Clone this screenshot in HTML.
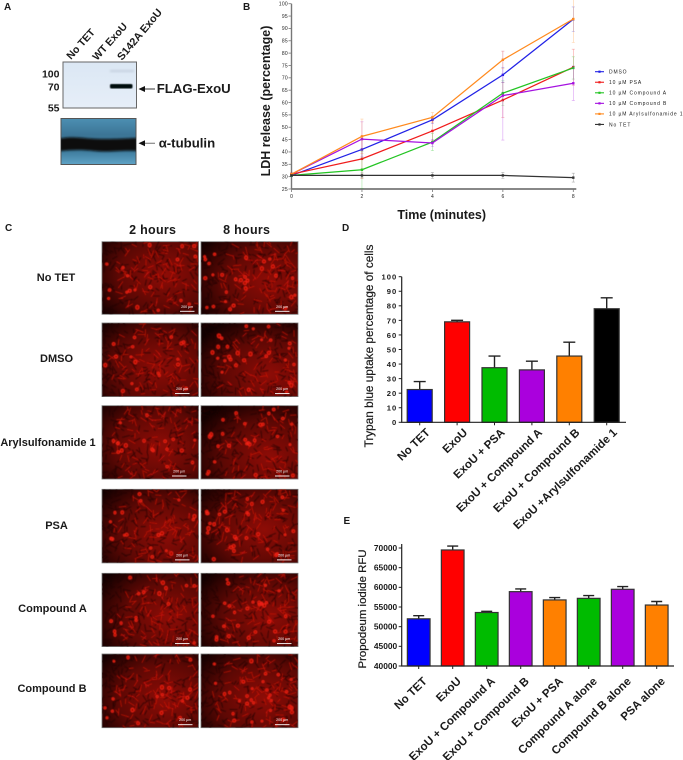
<!DOCTYPE html>
<html lang="en">
<head>
<meta charset="utf-8">
<title>ExoU inhibitor figure</title>
<style>
html,body{margin:0;padding:0;background:#fff;}
#figure{display:block;width:683px;height:760px;font-family:"Liberation Sans",sans-serif;}
text{font-family:"Liberation Sans",sans-serif;fill:#1a1a1a;}
.b{font-weight:bold;}
.panel{font-size:10px;font-weight:bold;}
.row{font-size:11px;font-weight:bold;text-anchor:middle;}
.head{font-size:12.5px;font-weight:bold;text-anchor:middle;letter-spacing:.3px;}
.semi{stroke:#1a1a1a;stroke-width:.2px;}
</style>
</head>
<body>
<svg id="figure" xmlns="http://www.w3.org/2000/svg" width="683" height="760" viewBox="0 0 683 760">
<defs>
<linearGradient id="blotBlue" x1="0" y1="0" x2="0" y2="1"><stop offset="0" stop-color="#dbe7f4"/><stop offset="1" stop-color="#e6eef8"/></linearGradient>
<linearGradient id="blotTeal" x1="0" y1="0" x2="0" y2="1"><stop offset="0" stop-color="#4c8fb2"/><stop offset=".35" stop-color="#3c7596"/><stop offset=".72" stop-color="#3f7d9e"/><stop offset="1" stop-color="#5fa3c6"/></linearGradient>
<filter id="soft" x="-5%" y="-5%" width="110%" height="110%"><feGaussianBlur stdDeviation=".45"/></filter>
<filter id="softBand" x="-10%" y="-60%" width="120%" height="220%"><feGaussianBlur stdDeviation="1"/></filter>
<clipPath id="tubClip"><rect x="61" y="118.5" width="75" height="46"/></clipPath>
</defs>

<text class="panel" x="4" y="10">A</text>
<text class="panel" x="243" y="10">B</text>
<text class="panel" x="5" y="231">C</text>
<text class="panel" x="342" y="231">D</text>
<text class="panel" x="343.5" y="524">E</text>

<g>
  <text class="b" font-size="10.5" transform="translate(71,60) rotate(-48)">No TET</text>
  <text class="b" font-size="10.5" transform="translate(97,61) rotate(-48)">WT ExoU</text>
  <text class="b" font-size="10.8" transform="translate(122,61) rotate(-50)">S142A ExoU</text>
  <rect x="63" y="62" width="73.5" height="46" fill="url(#blotBlue)" stroke="#666" stroke-width="1"/>
  <rect x="110" y="70" width="24" height="2" fill="#c4d0de" filter="url(#softBand)"/>
  <rect x="110" y="84" width="22.5" height="4.5" rx="1.5" fill="#06090f" filter="url(#soft)"/>
  <text class="b" font-size="10.5" text-anchor="end" x="59.5" y="77.7">100</text>
  <text class="b" font-size="10.5" text-anchor="end" x="59.5" y="90.7">70</text>
  <text class="b" font-size="10.5" text-anchor="end" x="59.5" y="111.3">55</text>
  <line x1="141" y1="89" x2="155" y2="89" stroke="#333" stroke-width="1"/>
  <polygon points="138.5,89 145,86 145,92" fill="#111"/>
  <text class="b" font-size="13.2" x="156.7" y="93">FLAG-ExoU</text>
  <rect x="61" y="118.5" width="75" height="46" fill="url(#blotTeal)" stroke="#555" stroke-width="1"/>
  <g clip-path="url(#tubClip)">
    <path d="M60 138.5C70 136.5 78 137.5 90 138.5S115 139 137 138V151C120 150 110 152.5 95 151S72 150 60 151Z" fill="#090807" filter="url(#softBand)"/>
  </g>
  <line x1="141" y1="143.3" x2="155" y2="143.3" stroke="#888" stroke-width="1.2"/>
  <polygon points="138.5,143.3 145,140.3 145,146.3" fill="#111"/>
  <text class="b" font-size="13.2" x="158.7" y="147.5" font-family="'Liberation Sans','DejaVu Sans',sans-serif">α-tubulin</text>
</g>

<g id="chartB">
  <text class="b" font-size="12.5" text-anchor="middle" transform="translate(270,101) rotate(-90)">LDH release (percentage)</text>
  <text class="b" font-size="12.5" text-anchor="middle" x="441.7" y="219">Time (minutes)</text>
</g>

<g id="panelC">
  <text class="head" x="152.7" y="234">2 hours</text>
  <text class="head" x="246.7" y="234">8 hours</text>
  <text class="row" x="56" y="281">No TET</text>
  <text class="row" x="56.5" y="362">DMSO</text>
  <text class="row" x="48" y="446">Arylsulfonamide 1</text>
  <text class="row" x="56.5" y="529">PSA</text>
  <text class="row" x="52.5" y="612">Compound A</text>
  <text class="row" x="52" y="692">Compound B</text>
</g>

<g id="chartD">
  <text class="semi" font-size="11.8" text-anchor="middle" transform="translate(373,346) rotate(-90)">Trypan blue uptake percentage of cells</text>
</g>

<g id="chartE">
  <text class="semi" font-size="11.4" text-anchor="middle" transform="translate(366,609) rotate(-90)">Propodeum iodide RFU</text>
</g>
</svg>

<script>
// ---- Panel B data ----
const timeTicks = [0, 2, 4, 6, 8];
const ldhTicks = [25,30,35,40,45,50,55,60,65,70,75,80,85,90,95,100];
const legendNames = ['DMSO','10 µM PSA','10 µM Compound A','10 µM Compound B','10 µM Arylsulfonamide 1','No TET'];
const lineColors = ['#2222e6','#f01c1c','#22c422','#a512e0','#ff8a1e','#333333'];
const dmsoValues = [30.5, 41, 53, 71.2, 93.7];
const psaValues = [31, 37.2, 48.5, 61, 74.3];
const compoundAValues = [30.5, 32.8, 44, 63.8, 74];
const compoundBValues = [31, 45.2, 43.6, 62.8, 67.8];
const arylValues = [31, 46.3, 54, 77.3, 93.8];
const noTetValues = [30.5, 30.5, 30.5, 30.5, 29.6];
const dmsoErrors = [0.5, 4, 1.5, 3, 5];
const psaErrors = [0.5, 8, 4, 7, 7.3];
const compoundAErrors = [0.5, 7.5, 3.5, 5, 4.5];
const compoundBErrors = [0.5, 7, 1.5, 18, 7];
const arylErrors = [0.5, 7, 2, 3.5, 9.5];
const noTetErrors = [0.3, 1, 1.2, 1.2, 1.8];

// ---- Panel D data ----
const trypanCategories = ['No TET','ExoU','ExoU + PSA','ExoU + Compound A','ExoU + Compound B','ExoU +Arylsulfonamide 1'];
const trypanValues = [22.5, 69, 37.5, 36, 45.5, 78];
const trypanErrors = [5.5, 1, 8, 6, 9.5, 7.5];
const trypanColors = ['#0000ff','#ff0000','#00bb00','#aa00dd','#ff8000','#000000'];
const trypanTicks = [0,10,20,30,40,50,60,70,80,90,100];

// ---- Panel E data ----
const rfuCategories = ['No TET','ExoU','ExoU + Compound A','ExoU + Compound B','ExoU + PSA','Compound A alone','Compound B alone','PSA alone'];
const rfuValues = [52000, 69500, 53600, 58900, 56800, 57200, 59500, 55500];
const rfuErrors = [800, 1000, 300, 700, 600, 700, 700, 900];
const rfuColors = ['#0000ff','#ff0000','#00bb00','#aa00dd','#ff8000','#00bb00','#aa00dd','#ff8000'];
const rfuTicks = [40000,45000,50000,55000,60000,65000,70000];

const NS = 'http://www.w3.org/2000/svg';
function mk(tag, attrs, parent) {
  const e = document.createElementNS(NS, tag);
  for (const k in attrs) e.setAttribute(k, attrs[k]);
  parent.appendChild(e);
  return e;
}
const slug = s => s.toLowerCase().replace(/µ/g,'u').replace(/[^a-z0-9]+/g,'-').replace(/^-|-$/g,'');

// ---- Panel B ----
(function () {
  const g = document.getElementById('chartB');
  const X = t => 291.5 + (t - 0) * (573.3 - 291.5) / 8;
  const Y = v => 189 - (v - 25) * (189 - 3.7) / 75;
  const all = [dmsoValues, psaValues, compoundAValues, compoundBValues, arylValues, noTetValues];
  const errs = [dmsoErrors, psaErrors, compoundAErrors, compoundBErrors, arylErrors, noTetErrors];

  const yAxis = mk('line', {x1:X(0), x2:X(0), y1:Y(100), y2:Y(25), stroke:'#777', 'stroke-width':1.4}, g);
  
  
  const xAxis = mk('line', {x1:X(0), x2:X(8)+3, y1:Y(25), y2:Y(25), stroke:'#777', 'stroke-width':1.8}, g);
  
  

  ldhTicks.forEach(v => {
    const t = mk('line', {x1:X(0)-3, x2:X(0), y1:Y(v), y2:Y(v), stroke:'#777', 'stroke-width':.8}, g);
    
    
    const l = mk('text', {x:X(0)-3.5, y:Y(v)+1.8, 'font-size':5, 'text-anchor':'end', 'letter-spacing':.3}, g);
    l.textContent = v;
    
    
  });
  timeTicks.forEach(v => {
    const t = mk('line', {x1:X(v), x2:X(v), y1:Y(25), y2:Y(25)+3, stroke:'#777', 'stroke-width':.8}, g);
    
    
    const l = mk('text', {x:X(v), y:Y(25)+9, 'font-size':5, 'text-anchor':'middle'}, g);
    l.textContent = v;
    
    
  });

  all.forEach((vals, i) => {
    const sg = mk('g', {}, g);
    
    
    vals.forEach((v, k) => {
      const e = errs[i][k];
      const bar = mk('path', {d:`M${X(timeTicks[k])} ${Y(v-e)}V${Y(v+e)}M${X(timeTicks[k])-1.5} ${Y(v+e)}h3M${X(timeTicks[k])-1.5} ${Y(v-e)}h3`, stroke:lineColors[i], 'stroke-width':.6, 'stroke-opacity':.4, fill:'none'}, sg);
      
      
    });
    const line = mk('polyline', {points: vals.map((v,k)=>X(timeTicks[k])+','+Y(v)).join(' '), fill:'none', stroke:lineColors[i], 'stroke-width':1.25}, sg);
    
    
    vals.forEach((v, k) => {
      const p = mk('rect', {x:X(timeTicks[k])-1.2, y:Y(v)-1.2, width:2.4, height:2.4, fill:lineColors[i]}, sg);
      
      
    });
  });

  legendNames.forEach((n, i) => {
    const y = 71.7 + i * 10.55;
    const lg = mk('g', {}, g);
    
    
    mk('line', {x1:595, x2:604, y1:y, y2:y, stroke:lineColors[i], 'stroke-width':1.1}, lg);
    mk('rect', {x:598.4, y:y-1.1, width:2.2, height:2.2, fill:lineColors[i]}, lg);
    const t = mk('text', {x:609, y:y+1.8, 'font-size':5, 'letter-spacing':.85}, lg);
    t.textContent = n;
  });
})();

// ---- Bar chart helper ----
function bars(g, o) {
  o.values.forEach((v, i) => {
    const cx = o.x0 + i * o.step;
    const bg = mk('g', {}, g);
    
    
    const top = o.Y(v + o.errs[i]);
    mk('path', {d:`M${cx} ${o.Y(v)}V${top}M${cx-o.cap} ${top}h${o.cap*2}`, stroke:'#222', 'stroke-width':1.4, fill:'none'}, bg);
    mk('rect', {x:cx-o.w/2, y:o.Y(v), width:o.w, height:o.Y(o.base)-o.Y(v), fill:o.colors[i], stroke:'#333', 'stroke-width':1.2}, bg);
    const tk = mk('line', {x1:cx, x2:cx, y1:o.Y(o.base), y2:o.Y(o.base)+3, stroke:'#222', 'stroke-width':1}, g);
    
    
    const l = mk('text', {'font-size':o.catSize, 'font-weight':'bold', 'text-anchor':'end', transform:`translate(${cx+o.labDx},${o.Y(o.base)+o.labDy}) rotate(-44)`}, g);
    l.textContent = o.cats[i];
    
    
  });
  const ax = mk('path', {d:`M${o.xa} ${o.yTop}V${o.Y(o.base)}H${o.xEnd}`, fill:'none', stroke:'#222', 'stroke-width':1.2}, g);
  
  
  o.ticks.forEach(v => {
    const t = mk('line', {x1:o.xa-3, x2:o.xa, y1:o.Y(v), y2:o.Y(v), stroke:'#222', 'stroke-width':1}, g);
    
    
    const l = mk('text', {x:o.xa-4.5, y:o.Y(v)+2.9, 'font-size':o.tickSize, 'font-weight':'bold', 'text-anchor':'end', 'letter-spacing':o.tickSpace}, g);
    l.textContent = v;
    
    
  });
}

bars(document.getElementById('chartD'), {
  cats:trypanCategories, values:trypanValues, errs:trypanErrors, colors:trypanColors, ticks:trypanTicks,
  Y:v => 422.3 - v * 1.456, base:0, x0:419.7, step:37.4, w:25, cap:6, xa:401.7, xEnd:626, yTop:276.7,
  catSize:11.5, tickSize:7.6, tickSpace:1, labDx:11, labDy:11
});
bars(document.getElementById('chartE'), {
  cats:rfuCategories, values:rfuValues, errs:rfuErrors, colors:rfuColors, ticks:rfuTicks,
  Y:v => 666 - (v - 40000) * 118 / 30000, base:40000, x0:418.7, step:34, w:22.7, cap:5.5, xa:401.7, xEnd:674, yTop:544,
  catSize:11.5, tickSize:8.4, tickSpace:0, labDx:9, labDy:16
});

// ---- Panel C: decorative micrograph texture (not chart data) ----
(function () {
  const g = document.getElementById('panelC');
  const defs = document.querySelector('#figure defs');
  const rows = [[241.7,72.6],[323,73.6],[405.7,73.3],[489.3,73.6],[573.3,73.3],[654,73.7]];
  const cols = [[102,96.5],[201,97]];
  const names = ['no-tet','dmso','arylsulfonamide-1','psa','compound-a','compound-b'];
  const scaleX = [[180,275],[175,275],[172,275],[175,277],[175,277],[178,275]];
  const glow = [[[.65,.45],[.7,.55]],[[.6,.6],[.7,.7]],[[.6,.55],[.7,.7]],[[.65,.6],[.65,.55]],[[.7,.6],[.7,.6]],[[.65,.6],[.65,.6]]];
  let seed = 48271;
  const rnd = () => (seed = (seed * 16807) % 2147483647) / 2147483647;
  for (let i = 0; i < 10; i++) rnd();
  rows.forEach((r, ri) => cols.forEach((c, ci) => {
    const id = 'mc' + ri + ci;
    const cp = mk('clipPath', {id}, defs);
    mk('rect', {x:c[0], y:r[0], width:c[1], height:r[1]}, cp);
    const [gx, gy] = glow[ri][ci];
    const gr = mk('radialGradient', {id:'mg' + ri + ci, cx:gx, cy:gy, r:.85}, defs);
    mk('stop', {offset:0, 'stop-color':'#8e0c06'}, gr);
    mk('stop', {offset:.55, 'stop-color':'#5e0804'}, gr);
    mk('stop', {offset:1, 'stop-color':'#120000'}, gr);
    const m = mk('g', {}, g);
    
    
    mk('rect', {x:c[0], y:r[0], width:c[1], height:r[1], fill:`url(#mg${ri}${ci})`, stroke:'#777', 'stroke-width':.8}, m);
    let dim = '', bright = '', rings = '';
    const darkAt = (x, y) => Math.hypot(x - (c[0] + c[1] * gx), y - (r[0] + r[1] * gy)) / 85;
    for (let i = 0; i < 260; i++) {
      const x = c[0] + rnd() * c[1], y = r[0] + rnd() * r[1];
      const a = rnd() * Math.PI, len = 1.8 + rnd() * 2.2;
      const dx = Math.cos(a) * len, dy = Math.sin(a) * len;
      const seg = `M${(x-dx).toFixed(1)} ${(y-dy).toFixed(1)}L${(x+dx).toFixed(1)} ${(y+dy).toFixed(1)}`;
      if (darkAt(x, y) > .6 || rnd() < .55) dim += seg; else bright += seg;
    }
    const nRings = ci ? 30 : 18;
    for (let i = 0; i < nRings; i++) {
      const x = c[0] + 3 + rnd() * (c[1] - 6), y = r[0] + 3 + rnd() * (r[1] - 6);
      if (darkAt(x, y) > .75 && rnd() < .75) continue;
      const rad = 1 + rnd() * .7;
      rings += `M${(x-rad).toFixed(1)} ${y.toFixed(1)}a${rad.toFixed(1)} ${rad.toFixed(1)} 0 1 0 ${(rad*2).toFixed(1)} 0a${rad.toFixed(1)} ${rad.toFixed(1)} 0 1 0 ${(-rad*2).toFixed(1)} 0Z`;
    }
    const clip = mk('g', {'clip-path':`url(#${id})`}, m);
    const tex = mk('g', {filter:'url(#soft)'}, clip);
    mk('path', {d:dim, stroke:'#200100', 'stroke-width':.85, fill:'none', 'stroke-linecap':'round', opacity:.75}, tex);
    mk('path', {d:bright, stroke:'#cc140a', 'stroke-width':.85, fill:'none', 'stroke-linecap':'round', opacity:.8}, tex);
    mk('path', {d:rings, stroke:'#f02214', 'stroke-width':.9, fill:'#a81006'}, tex);
    const sx = scaleX[ri][ci], sy = r[0] + r[1] - 3;
    const bar = mk('line', {x1:sx, x2:sx+14.5, y1:sy, y2:sy, stroke:'#fff', 'stroke-width':.9}, m);
    
    
    const st = mk('text', {x:sx+7.2, y:sy-3.5, 'font-size':3.6, 'text-anchor':'middle', style:'fill:#fff'}, m);
    st.textContent = '200 µm';
    
    
  }));
})();
</script>
</body>
</html>
